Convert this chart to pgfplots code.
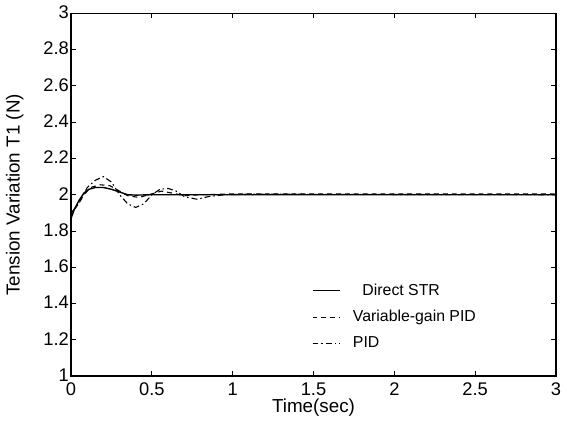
\documentclass[border=0pt]{standalone}
\usepackage{pgfplots}
\pgfplotsset{compat=1.18}
\usepackage{fontspec}
\setmainfont{Liberation Sans}
\begin{document}
\fontsize{18}{21}\selectfont
\begin{tikzpicture}
\begin{axis}[
  scale only axis, width=488bp, height=365bp,
  xmin=0, xmax=3, ymin=1, ymax=3,
  xtick={0,0.5,...,3}, ytick={1,1.2,...,3},
  xticklabels={0,0.5,1,1.5,2,2.5,3},
  yticklabels={1,1.2,1.4,1.6,1.8,2,2.2,2.4,2.6,2.8,3},
  tick align=inside, major tick length=5pt,
  axis line style={line width=1.3pt}, tick style={line width=1pt, black},
  /pgf/number format/assume math mode=true,
  ticklabel style={font=\fontsize{18.5}{21}\selectfont},
  label style={font=\fontsize{19}{22}\selectfont},
  xlabel={Time(sec)}, ylabel={Tension Variation T1 (N)},
  xlabel style={yshift=9pt}, ylabel style={yshift=8pt},
  yticklabel style={xshift=4pt, yshift=1pt}, xticklabel style={yshift=-1pt},
  legend style={at={(0.49,0.06)}, anchor=south west, draw=none, fill=none,
    font=\fontsize{16}{19}\selectfont, row sep=8.5pt, column sep=10bp},
  legend cell align=left,
  legend image code/.code={\draw[#1] (0bp,0bp) -- (28bp,0bp);},
]
\addplot[black, line width=1.4pt] coordinates {
(0,1.87)(0.02,1.92)(0.05,1.97)(0.08,2.01)(0.11,2.03)(0.15,2.04)(0.2,2.04)(0.25,2.03)(0.3,2.015)(0.35,2.0)(0.4,1.998)(0.5,2.0)(0.6,2.0)(3,2.0)};
\addlegendentry{\hspace{0.6em}Direct STR}
\addplot[black, line width=1.1pt, dash pattern=on 5pt off 4pt] coordinates {
(0,1.88)(0.03,1.93)(0.07,1.99)(0.12,2.04)(0.18,2.055)(0.24,2.05)(0.3,2.02)(0.35,1.995)(0.42,1.985)(0.5,2.005)(0.56,2.02)(0.62,2.01)(0.7,1.995)(0.8,2.0)(1,2.005)(3,2.005)};
\addlegendentry{Variable-gain PID}
\addplot[black, line width=1.1pt, dash pattern=on 6pt off 3pt on 1.5pt off 3pt] coordinates {
(0,1.9)(0.03,1.93)(0.06,1.97)(0.1,2.04)(0.15,2.08)(0.2,2.10)(0.25,2.07)(0.3,2.0)(0.35,1.95)(0.4,1.93)(0.45,1.95)(0.5,2.0)(0.55,2.03)(0.6,2.035)(0.65,2.02)(0.7,1.99)(0.78,1.975)(0.85,1.99)(0.95,2.0)(1.1,2.003)(3,2.0)};
\addlegendentry{PID}
\end{axis}
\end{tikzpicture}
\end{document}
